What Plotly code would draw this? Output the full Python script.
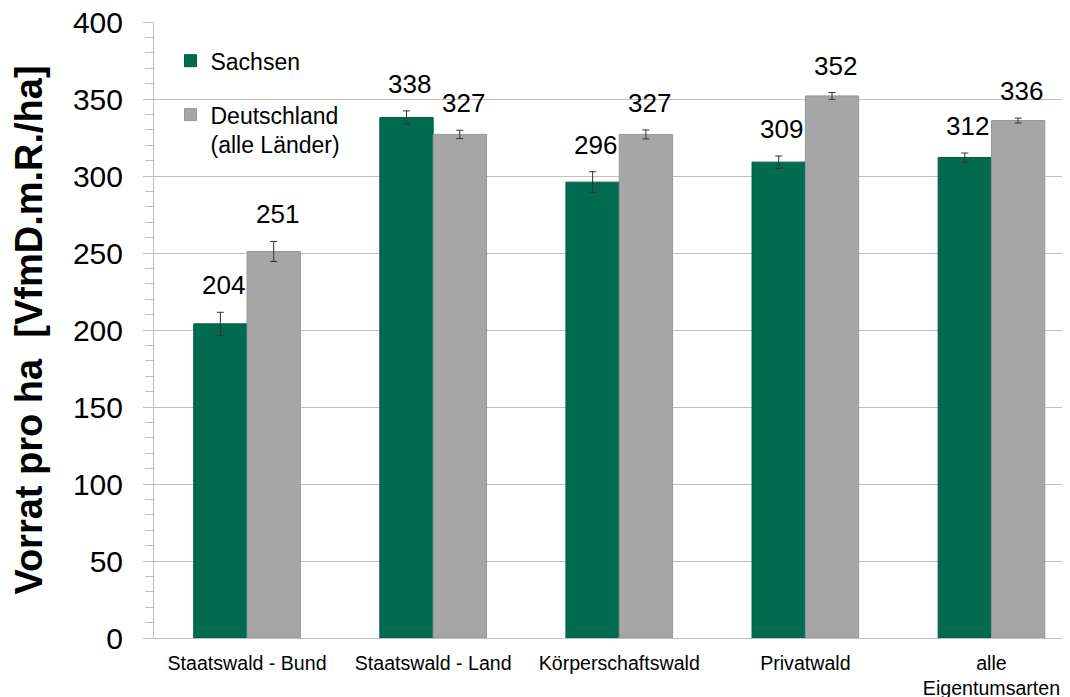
import plotly.graph_objects as go

categories = ["Staatswald - Bund", "Staatswald - Land", "Körperschaftswald",
              "Privatwald", "alle<br>Eigentumsarten"]
sachsen = [204, 338, 296, 309, 312]
deutschland = [251, 327, 327, 352, 336]
sachsen_err = [7.5, 4.3, 6.8, 4.0, 2.9]
deutschland_err = [6.5, 2.7, 2.9, 2.2, 1.6]
y_tick_vals = [0, 50, 100, 150, 200, 250, 300, 350, 400]
series_names = ["Sachsen", "Deutschland<br>(alle Länder)"]

GREEN = "#006B4F"
GRAY = "#A6A6A6"
FONT = "Liberation Sans, Arial, sans-serif"

fig = go.Figure()
fig.add_trace(go.Bar(
    x=categories, y=sachsen, name=series_names[0], legendgroup="a",
    marker=dict(color=GREEN, line=dict(color="#005a42", width=1)),
    error_y=dict(type="data", array=sachsen_err, color="#333333", thickness=1, width=3.5),
))
fig.add_trace(go.Bar(
    x=categories, y=deutschland, name=series_names[1], legendgroup="b",
    marker=dict(color=GRAY, line=dict(color="#969696", width=1)),
    error_y=dict(type="data", array=deutschland_err, color="#333333", thickness=1, width=3.5),
))

annotations = []
for vals, errs, shift in ((sachsen, sachsen_err, -24), (deutschland, deutschland_err, 30)):
    for c, v, e in zip(categories, vals, errs):
        annotations.append(dict(
            x=c, y=v + e, xref="x", yref="y", text=str(v), showarrow=False,
            xanchor="center", yanchor="bottom", xshift=shift, yshift=10,
            font=dict(family=FONT, size=26, color="#000000"),
        ))

fig.update_layout(
    width=1062, height=689,
    margin=dict(l=146, r=0, t=14, b=59, autoexpand=False),
    paper_bgcolor="white", plot_bgcolor="white",
    barmode="group", bargap=0.427, bargroupgap=0,
    font=dict(family=FONT, color="#000000"),
    showlegend=True,
    legend=dict(
        x=0.018, y=0.972, xanchor="left", yanchor="top",
        bgcolor="rgba(0,0,0,0)", font=dict(family=FONT, size=23, color="#000000"),
        traceorder="grouped", tracegroupgap=21, valign="top",
        itemwidth=30,
    ),
    annotations=annotations,
    xaxis=dict(
        range=[-0.5, 4.422], showgrid=False, showline=True, linecolor="#BFBFBF",
        linewidth=1, ticks="", tickfont=dict(family=FONT, size=19.6, color="#000000"),
        ticklabelstandoff=7, automargin=False,
    ),
    yaxis=dict(
        range=[0, 400], tickvals=y_tick_vals, showgrid=True, gridcolor="#BFBFBF",
        gridwidth=1, showline=True, linecolor="#BFBFBF", linewidth=1,
        ticks="outside", ticklen=10, tickcolor="#BFBFBF",
        minor=dict(dtick=10, ticks="outside", ticklen=8, tickcolor="#BFBFBF", showgrid=False),
        tickfont=dict(family=FONT, size=30, color="#000000"),
        ticklabelstandoff=14, ticklabeloverflow="allow",
        zeroline=False, automargin=False,
        title=dict(text="<b>Vorrat pro ha&nbsp; [VfmD.m.R./ha]</b>",
                   font=dict(family=FONT, size=38, color="#000000"), standoff=20),
    ),
)

fig.write_html("out.html")
